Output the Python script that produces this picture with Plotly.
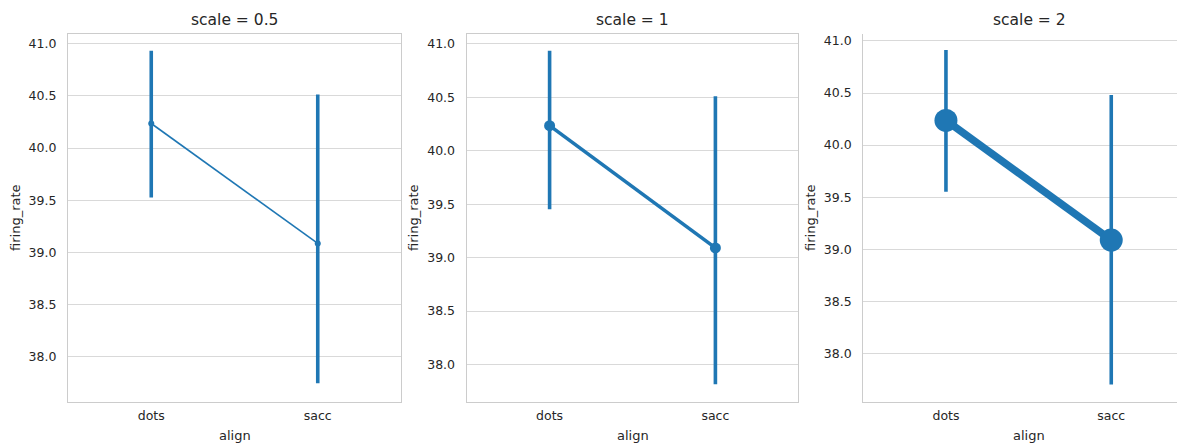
import plotly.graph_objects as go

# ---- data ----
categories = ["dots", "sacc"]
scales = ["0.5", "1", "2"]
means_05 = [40.235, 39.086]
means_1 = [40.234, 39.091]
means_2 = [40.237, 39.087]
ci_lo_05 = [39.526, 37.745]
ci_hi_05 = [40.933, 40.512]
ci_lo_1 = [39.453, 37.816]
ci_hi_1 = [40.934, 40.510]
ci_lo_2 = [39.551, 37.699]
ci_hi_2 = [40.913, 40.481]
y_ticks = [38.0, 38.5, 39.0, 39.5, 40.0, 40.5, 41.0]

# the page body adds an 8px margin; lay out in reference pixels and shift
OFF = 8
RW, RH = 1185, 443
W, H = RW - OFF, RH - OFF


def fx(px):
    return (px - OFF) / W


def fy(py):
    return 1 - (py - OFF) / H


BLUE = "#1f77b4"
TXT = "#262626"
FONT = "DejaVu Sans"

panels = [
    dict(means=means_05, lo=ci_lo_05, hi=ci_hi_05, lw=1.6, ms=6,
         px=(68, 401), yr=(37.566, 41.093), xr=(-0.5, 1.5), mirror=True, ylab_x=15, tx=234.5),
    dict(means=means_1, lo=ci_lo_1, hi=ci_hi_1, lw=3.6, ms=11,
         px=(466.7, 798.3), yr=(37.65, 41.091), xr=(-0.5, 1.5), mirror=True, ylab_x=413, tx=632.5),
    dict(means=means_2, lo=ci_lo_2, hi=ci_hi_2, lw=7.5, ms=23,
         px=(863.3, RW), yr=(37.532, 41.067), xr=(-0.5, -0.5 + (RW - 863.3) / 165.3),
         mirror=False, ylab_x=810, tx=1029),
]

y_dom = [fy(402), fy(34)]

fig = go.Figure()
annotations = []
for i, p in enumerate(panels):
    n = "" if i == 0 else str(i + 1)
    xa, ya = "x" + n, "y" + n
    err_plus = [h - m for h, m in zip(p["hi"], p["means"])]
    err_minus = [m - l for m, l in zip(p["means"], p["lo"])]
    fig.add_trace(go.Scatter(
        x=categories, y=p["means"], xaxis=xa, yaxis=ya,
        mode="lines+markers",
        line=dict(color=BLUE, width=p["lw"]),
        marker=dict(color=BLUE, size=p["ms"], line=dict(width=0)),
        error_y=dict(type="data", symmetric=False, array=err_plus, arrayminus=err_minus,
                     color=BLUE, thickness=3.6, width=0),
        showlegend=False,
    ))
    x0, x1 = p["px"]
    fig.layout["xaxis" + n] = dict(
        domain=[fx(x0), min(fx(x1), 1.0)], anchor=ya, type="category",
        categoryorder="array", categoryarray=categories,
        range=list(p["xr"]), showgrid=False, zeroline=False,
        showline=True, linecolor="#cccccc", linewidth=1.25, mirror=p["mirror"],
        ticks="outside", ticklen=2, tickcolor="rgba(0,0,0,0)",
        tickfont=dict(family=FONT, size=12.5, color=TXT),
        automargin=False, fixedrange=True,
    )
    fig.layout["yaxis" + n] = dict(
        domain=y_dom, anchor=xa, range=list(p["yr"]),
        tickvals=y_ticks, tickformat=".1f",
        showgrid=True, gridcolor="#d9d9d9", gridwidth=1, zeroline=False,
        showline=True, linecolor="#cccccc", linewidth=1.25, mirror=p["mirror"],
        ticks="outside", ticklen=8, tickcolor="rgba(0,0,0,0)",
        tickfont=dict(family=FONT, size=12.5, color=TXT),
        automargin=False, fixedrange=True,
    )
    annotations.append(dict(
        text="scale = " + scales[i], x=fx(p["tx"]), y=fy(20), xref="paper", yref="paper",
        showarrow=False, xanchor="center", yanchor="middle",
        font=dict(family=FONT, size=15.5, color=TXT),
    ))
    annotations.append(dict(
        text="align", x=fx(p["tx"]), y=fy(435), xref="paper", yref="paper",
        showarrow=False, xanchor="center", yanchor="middle",
        font=dict(family=FONT, size=13, color=TXT),
    ))
    annotations.append(dict(
        text="firing_rate", x=fx(p["ylab_x"]), y=fy(218), xref="paper", yref="paper",
        showarrow=False, textangle=-90, xanchor="center", yanchor="middle",
        font=dict(family=FONT, size=13, color=TXT),
    ))

fig.update_layout(
    width=W, height=H,
    margin=dict(l=0, r=0, t=0, b=0),
    paper_bgcolor="white", plot_bgcolor="white",
    annotations=annotations,
    font=dict(family=FONT, color=TXT),
)

fig.write_html("out.html")
